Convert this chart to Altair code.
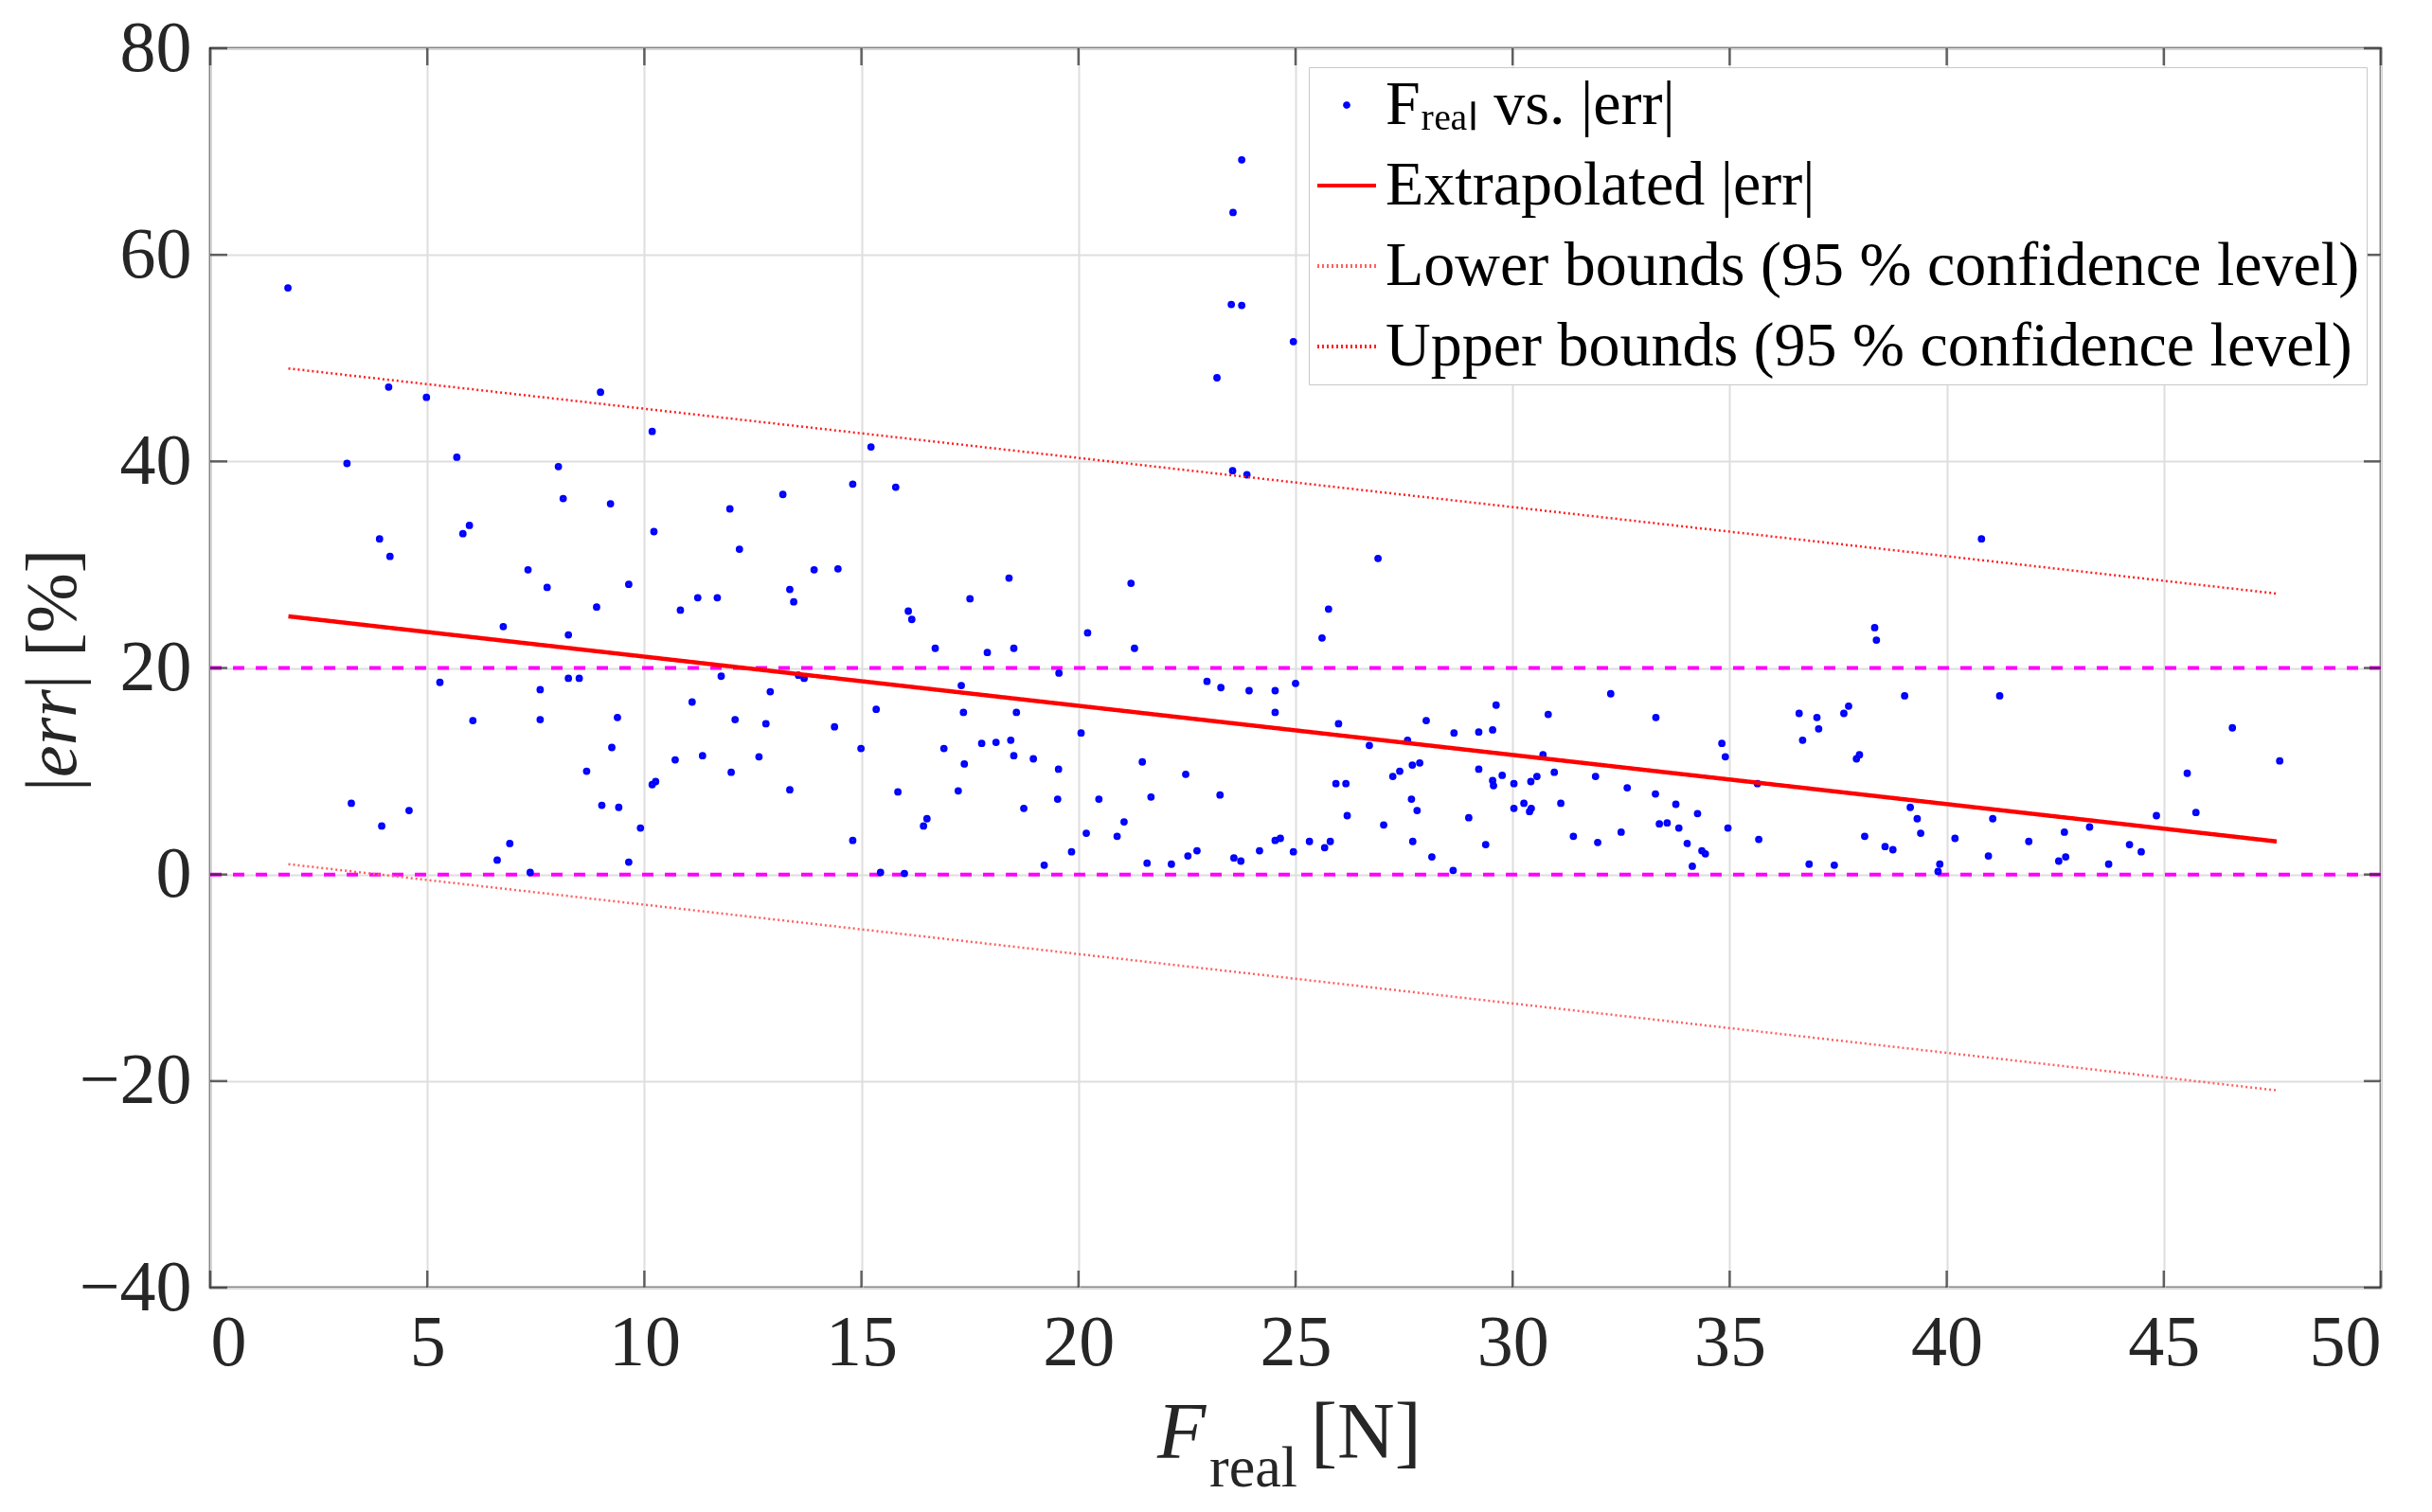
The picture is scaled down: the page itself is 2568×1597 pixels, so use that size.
import altair as alt
import pandas as pd

# scatter: F_real [N] vs |err| [%]
f_real = [
    1.79, 4.11, 4.98, 8.99, 10.18, 3.15, 5.68, 8.02, 8.13, 9.22, 10.22, 3.9, 4.14, 5.82,
    5.97, 7.32, 7.76, 9.64, 8.9, 6.75, 8.25, 5.29, 7.6, 8.25, 8.5, 6.05, 7.6, 9.38, 9.25,
    8.67, 10.18, 10.26, 3.25, 3.95, 4.58, 9.02, 9.41, 9.91, 6.9, 6.61, 7.37, 9.64,
    15.22, 11.97, 13.19, 14.8, 15.79, 12.19, 13.91, 14.46, 13.35, 13.44, 10.83, 11.23,
    11.68, 16.08, 16.16, 17.5, 18.4, 20.21, 16.7, 17.9, 18.51, 11.77, 12.9, 13.55, 13.68,
    19.55, 17.3, 11.1, 12.09, 12.8, 14.38, 15.34, 17.35, 18.57, 20.06, 14.99, 16.9, 17.77,
    18.1, 18.44, 18.51, 18.96, 17.37, 19.54, 10.71, 11.34, 12.64, 12.0, 13.35, 15.84,
    17.23, 19.52, 18.74, 16.43, 16.51, 20.18, 14.8, 19.84, 19.21, 15.44, 15.99,
    23.76, 23.56, 23.52, 23.76, 24.95, 23.19, 23.55, 23.88, 26.9, 21.21, 21.29, 25.76,
    25.61, 22.96, 23.28, 23.93, 24.53, 25.0, 24.53, 25.99, 26.7, 27.58, 28.01, 28.65,
    29.22, 29.54, 29.62, 21.47, 22.47, 20.47, 21.67, 23.26, 20.89, 21.05, 21.58, 22.14,
    22.52, 22.73, 23.58, 23.74, 24.17, 24.53, 24.65, 24.95, 25.32, 25.67, 25.8, 25.93,
    26.16, 26.19, 27.03, 27.24, 27.4, 27.69, 27.86, 27.67, 27.8, 27.7, 28.14, 28.63,
    28.99, 29.22, 29.54, 29.56, 29.76, 29.38, 30.03, 30.03,
    38.34, 38.38, 32.26, 30.82, 33.3, 36.6, 37.01, 37.05, 37.63, 37.74, 39.03, 36.68,
    34.82, 34.9, 30.7, 37.92, 37.99, 30.96, 30.42, 30.56, 31.91, 32.64, 33.29, 35.64,
    30.26, 30.39, 30.43, 31.11, 33.76, 34.26, 33.38, 33.56, 33.83, 34.96, 31.4, 32.5,
    31.96, 34.02, 34.36, 34.44, 34.14, 35.67, 36.83, 37.41, 38.11, 38.58, 38.76, 39.16,
    39.32, 39.4, 39.8, 39.84,
    40.8, 41.22, 46.58, 47.67, 45.54, 45.74, 44.83, 41.06, 43.29, 40.19, 41.89, 42.71,
    40.96, 42.58, 42.74, 43.73, 44.21, 44.48,
]
err_abs = [
    56.8, 47.2, 46.2, 46.7, 42.9, 39.8, 40.4, 39.5, 36.4, 35.9, 33.2, 32.5, 30.8, 33.0,
    33.8, 29.5, 27.8, 28.1, 25.9, 24.0, 23.2, 18.6, 17.9, 19.0, 19.0, 14.9, 15.0, 15.2, 12.3,
    10.0, 8.7, 9.0, 6.9, 4.7, 6.2, 6.7, 6.5, 4.5, 3.0, 1.4, 0.2, 1.2,
    41.4, 35.4, 36.8, 37.8, 37.5, 31.5, 29.5, 29.6, 27.6, 26.4, 25.6, 26.8,
    26.8, 25.5, 24.7, 26.7, 28.7, 23.4, 21.9, 21.5, 21.9, 19.2, 17.7, 19.3, 19.0,
    19.5, 18.3, 16.7, 15.0, 14.6, 14.3, 16.0, 15.7, 15.7, 13.7, 12.2, 12.2, 12.7,
    12.8, 13.0, 11.5, 11.2, 10.7, 10.2, 11.1, 11.5, 11.4, 9.9, 8.2, 8.0,
    8.1, 7.3, 6.4, 4.7, 5.4, 4.0, 3.3, 2.2, 0.9, 0.2, 0.1,
    69.2, 64.1, 55.2, 55.1, 51.6, 48.1, 39.1, 38.7, 30.6, 28.2, 21.9, 25.7,
    22.9, 18.7, 18.1, 17.8, 17.8, 18.5, 15.7, 14.6, 12.5, 13.0, 14.9, 13.7,
    13.8, 14.0, 16.4, 10.9, 9.7, 7.3, 7.5, 7.7, 3.7, 5.1, 1.1, 1.0,
    1.8, 2.3, 1.6, 1.3, 2.3, 3.3, 3.5, 2.2, 3.2, 2.6, 3.2, 8.8,
    8.8, 5.7, 4.8, 9.5, 10.0, 10.6, 10.8, 7.3, 6.2, 3.2, 1.7, 0.4,
    5.5, 10.2, 9.1, 8.6, 9.6, 2.9, 8.8, 6.4,
    23.9, 22.7, 17.5, 15.5, 15.2, 15.6, 15.2, 14.1, 15.6, 16.3, 17.3, 13.0,
    12.7, 11.4, 11.6, 11.2, 11.6, 9.9, 9.0, 9.5, 9.5, 8.4, 7.8, 8.8,
    6.9, 6.1, 6.4, 6.9, 6.8, 5.9, 4.9, 5.0, 4.5, 4.5, 3.7, 4.1,
    3.1, 3.0, 2.3, 2.0, 0.8, 3.4, 1.0, 0.9, 3.7, 2.7, 2.4, 6.5,
    5.4, 4.0, 0.3, 1.0,
    32.5, 17.3, 14.2, 11.0, 9.8, 6.0, 5.7, 5.4, 4.6, 3.5, 3.2, 4.1,
    1.8, 1.3, 1.7, 1.0, 2.9, 2.2,
]

# fitted line and its 95 % bounds (end points)
fit_f = [1.8, 47.6]
fit_err = [25.0, 3.2]
lower_err = [1.0, -20.9]
upper_err = [49.0, 27.2]

# magenta reference levels
levels = [0, 20]

# axis tick positions
x_ticks = list(range(0, 51, 5))
y_ticks = list(range(-40, 81, 20))

series = [
    "F\u1d63\u2091\u2090\u2097 vs. |err|",
    "Extrapolated |err|",
    "Lower bounds (95 % confidence level)",
    "Upper bounds (95 % confidence level)",
]

points = pd.DataFrame({"F": f_real, "err": err_abs, "series": series[0]})
fit = pd.DataFrame({"F": fit_f, "err": fit_err, "series": series[1]})
bounds = pd.concat([
    pd.DataFrame({"F": fit_f, "err": lower_err, "series": series[2]}),
    pd.DataFrame({"F": fit_f, "err": upper_err, "series": series[3]}),
])

DOT = "M-0.06,0a0.06,0.06 0 1,0 0.12,0a0.06,0.06 0 1,0 -0.12,0Z"
STROKE = "M-1,0L1,0"
W, H = 2292, 1309

x_scale = alt.Scale(domain=[0, 50], nice=False)
y_scale = alt.Scale(domain=[-40, 80], nice=False)
x_enc = alt.X("F:Q", scale=x_scale,
              axis=alt.Axis(values=x_ticks, title=None, labelPadding=21))
y_enc = alt.Y("err:Q", scale=y_scale,
              axis=alt.Axis(values=y_ticks, title=None, labelPadding=20))
color = alt.Color("series:N", scale=alt.Scale(domain=series,
                  range=["#0000ff", "#ff0000", "#ff6060", "#ff2020"]),
                  legend=alt.Legend(title=None))
shape = alt.Shape("series:N", scale=alt.Scale(domain=series, range=[DOT, STROKE, STROKE, STROKE]),
                  legend=alt.Legend(title=None))
dash = alt.StrokeDash("series:N", scale=alt.Scale(domain=series,
                      range=[[1, 0], [1, 0], [2, 3], [2, 3]]),
                      legend=alt.Legend(title=None))

scatter = alt.Chart(points).mark_point(filled=False, strokeWidth=4.2, opacity=1, size=3600).encode(
    x=x_enc, y=y_enc, color=color, shape=shape
)

fit_line = alt.Chart(fit).mark_line(strokeWidth=4.5).encode(
    x=x_enc, y=y_enc, color=color, strokeDash=dash
)

bound_lines = alt.Chart(bounds).mark_line(strokeWidth=2.5).encode(
    x=x_enc, y=y_enc, color=color, strokeDash=dash, detail="series:N"
)

level_lines = alt.Chart(pd.DataFrame({"err": levels})).mark_rule(
    color="#ff00ff", strokeWidth=4, strokeDash=[12, 12]
).encode(y=y_enc)

# inward tick marks on all four sides of the box (MATLAB style)
tick_style = dict(color="#262626", size=18, thickness=2.5)
xt = alt.Chart(pd.DataFrame({"F": x_ticks}))
yt = alt.Chart(pd.DataFrame({"err": y_ticks}))
ticks = [
    xt.mark_tick(**tick_style).encode(x=alt.X("F:Q", scale=x_scale), y=alt.value(H - 9)),
    xt.mark_tick(**tick_style).encode(x=alt.X("F:Q", scale=x_scale), y=alt.value(9)),
    yt.mark_tick(**tick_style).encode(y=alt.Y("err:Q", scale=y_scale), x=alt.value(9)),
    yt.mark_tick(**tick_style).encode(y=alt.Y("err:Q", scale=y_scale), x=alt.value(W - 9)),
]


# pieces of the axis titles (mixed italic / subscript text)
def title_piece(text, x, y, size, style="normal", angle=0):
    return alt.Chart(pd.DataFrame({"t": [text]})).mark_text(
        font="Liberation Serif", fontSize=size, fontStyle=style, align="left",
        baseline="alphabetic", angle=angle, color="#262626"
    ).encode(x=alt.value(x), y=alt.value(y), text="t:N")


titles = [
    title_piece("F", 1000, 1489, 84, "italic"),
    title_piece("real", 1055, 1519, 62),
    title_piece("[N]", 1162, 1489, 84),
    title_piece("|", -142, 785, 76, angle=270),
    title_piece("err", -142, 770, 76, "italic", angle=270),
    title_piece("| [%]", -142, 677, 76, angle=270),
]

chart = alt.layer(level_lines, *ticks, scatter, bound_lines, fit_line, *titles).properties(
    width=W,
    height=H,
    autosize=alt.AutoSizeParams(type="none"),
    padding={"left": 214, "top": 43, "right": 46, "bottom": 229},
).configure(
    font="Liberation Serif"
).configure_axis(
    labelFont="Liberation Serif",
    labelFontSize=76,
    labelColor="#262626",
    domain=False,
    ticks=False,
    grid=True,
    gridColor="#dedede",
    gridWidth=2,
).configure_view(
    stroke="#262626",
    strokeWidth=2.5,
).configure_legend(
    orient="none",
    legendX=1160,
    legendY=20,
    labelFont="Liberation Serif",
    labelFontSize=66,
    labelColor="#000000",
    labelOffset=8,
    labelLimit=2000,
    symbolSize=3844,
    symbolStrokeWidth=4,
    rowPadding=19,
    padding=7,
    strokeColor="#c8c8c8",
    fillColor="#ffffff",
)

chart.save("out.html", embed_options={"renderer": "svg", "actions": False})
